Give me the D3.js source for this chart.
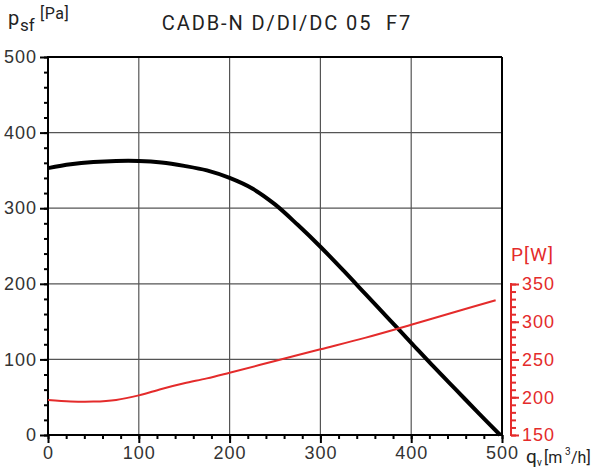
<!DOCTYPE html>
<html><head><meta charset="utf-8">
<script src="https://cdn.jsdelivr.net/npm/d3@7"></script>
<style>
html,body{margin:0;padding:0;background:#fff;}
svg{display:block;font-family:Roboto,"Noto Sans",sans-serif;}
</style></head>
<body><svg id="c" width="594" height="472"></svg>
<script>
const title = "CADB-N D/DI/DC 05  F7";
const xTicks = [0,100,200,300,400,500];
const yTicks = [0,100,200,300,400,500];
const wTicks = [150,200,250,300,350];
const pressureQ = [0,25,50,75,100,125,150,175,200,225,250,275,300,325,350,375,400,425,450,475,498];
const pressurePa = [353,358,361,362.5,362.5,360.5,356,350,340,326,305,278,249,218,186,154,122,90,59,28,0];
const powerQ = [0,25,50,75,100,125,150,175,200,250,300,350,400,450,493];
const powerW = [196.5,194.5,194.3,196.5,202.5,211,218.5,225,232.5,248,263.5,279,296,313.5,328.5];

const svg = d3.select("#c");
const x = d3.scaleLinear().domain([0,500]).range([48,502]);
const y = d3.scaleLinear().domain([0,500]).range([435,57]);
const yw = d3.scaleLinear().domain([150,350]).range([435,284]);
const red = "#e42b2b";
const tc = "#333";

// gridlines
const g = svg.append("g");
g.selectAll(".vx").data(xTicks.slice(1,-1)).enter().append("line")
 .attr("x1",d=>x(d)).attr("x2",d=>x(d)).attr("y1",y(0)).attr("y2",y(500))
 .attr("stroke","#555").attr("stroke-width",1.2);
g.selectAll(".hy").data(yTicks.slice(1,-1)).enter().append("line")
 .attr("x1",x(0)).attr("x2",x(500)).attr("y1",d=>y(d)).attr("y2",d=>y(d))
 .attr("stroke","#555").attr("stroke-width",1.2);
// frame top/right
svg.append("line").attr("x1",x(0)).attr("x2",x(500)).attr("y1",y(500)).attr("y2",y(500)).attr("stroke","#000").attr("stroke-width",2);
svg.append("line").attr("x1",x(500)).attr("x2",x(500)).attr("y1",y(0)).attr("y2",y(500)).attr("stroke","#000").attr("stroke-width",2);

function styleAxis(sel,color){
  sel.select(".domain").remove();
  sel.selectAll("line").attr("stroke",color).attr("stroke-width",2);
  sel.selectAll("text").attr("fill",color===red?red:tc).style("font-size","18px").style("letter-spacing","1px");
}
// left axis
const la = svg.append("g").attr("transform",`translate(${x(0)},0)`)
  .call(d3.axisLeft(y).tickValues(d3.range(0,501,20)).tickSize(4).tickFormat(""));
styleAxis(la,"#000");
const lb = svg.append("g").attr("transform",`translate(${x(0)},0)`)
  .call(d3.axisLeft(y).tickValues(yTicks).tickSize(8).tickPadding(3).tickFormat(d3.format("d")));
styleAxis(lb,"#000");
svg.append("line").attr("x1",x(0)).attr("x2",x(0)).attr("y1",y(0)+1).attr("y2",y(500)-1).attr("stroke","#000").attr("stroke-width",2);

// bottom axis
const ba = svg.append("g").attr("transform",`translate(0,${y(0)})`)
  .call(d3.axisBottom(x).tickValues(d3.range(0,501,20)).tickSize(4).tickFormat(""));
styleAxis(ba,"#000");
const bb = svg.append("g").attr("transform",`translate(0,${y(0)})`)
  .call(d3.axisBottom(x).tickValues(xTicks).tickSize(8).tickPadding(3).tickFormat(d3.format("d")));
styleAxis(bb,"#000");
svg.append("line").attr("x1",x(0)-1).attr("x2",x(500)+1).attr("y1",y(0)).attr("y2",y(0)).attr("stroke","#000").attr("stroke-width",2);

// right red axis
const rx = 511;
const ra = svg.append("g").attr("transform",`translate(${rx},0)`)
  .call(d3.axisRight(yw).tickValues(d3.range(150,351,10)).tickSize(5).tickFormat(""));
styleAxis(ra,red);
const rb = svg.append("g").attr("transform",`translate(${rx},0)`)
  .call(d3.axisRight(yw).tickValues(wTicks).tickSize(8).tickPadding(3).tickFormat(d3.format("d")));
styleAxis(rb,red);
svg.append("line").attr("x1",rx).attr("x2",rx).attr("y1",yw(150)+1).attr("y2",yw(350)-1).attr("stroke",red).attr("stroke-width",2);

// curves
const lineP = d3.line().x(d=>x(d[0])).y(d=>y(d[1])).curve(d3.curveCatmullRom.alpha(0.5));
svg.append("path").datum(d3.zip(pressureQ,pressurePa)).attr("d",lineP)
  .attr("fill","none").attr("stroke","#000").attr("stroke-width",4);
const lineW = d3.line().x(d=>x(d[0])).y(d=>yw(d[1])).curve(d3.curveCatmullRom.alpha(0.5));
svg.append("path").datum(d3.zip(powerQ,powerW)).attr("d",lineW)
  .attr("fill","none").attr("stroke",red).attr("stroke-width",2);

// labels
svg.append("text").attr("x",287).attr("y",30).attr("text-anchor","middle")
  .attr("fill","#222").style("font-size","20px").style("letter-spacing","1.9px")
  .style("white-space","pre").attr("xml:space","preserve").text(title);

svg.append("text").attr("x",8).attr("y",25).attr("fill","#222").style("font-size","20px").text("p");
svg.append("text").attr("x",20).attr("y",31).attr("fill","#222").style("font-size","17px").text("sf");
svg.append("text").attr("x",40).attr("y",19).attr("fill","#222").style("font-size","16px").style("letter-spacing","0.5px").text("[Pa]");

svg.append("text").attr("x",526).attr("y",463).attr("fill","#222").style("font-size","19px").text("q");
svg.append("text").attr("x",537).attr("y",466).attr("fill","#222").style("font-size","10px").text("v");
svg.append("text").attr("x",544).attr("y",463).attr("fill","#222").style("font-size","16px").text("[m");
svg.append("text").attr("x",565).attr("y",455).attr("fill","#222").style("font-size","10px").text("3");
svg.append("text").attr("x",571).attr("y",463).attr("fill","#222").style("font-size","16px").text("/h]");

svg.append("text").attr("x",511).attr("y",261).attr("fill",red).style("font-size","19px").style("letter-spacing","1px").text("P[W]");
</script></body></html>
